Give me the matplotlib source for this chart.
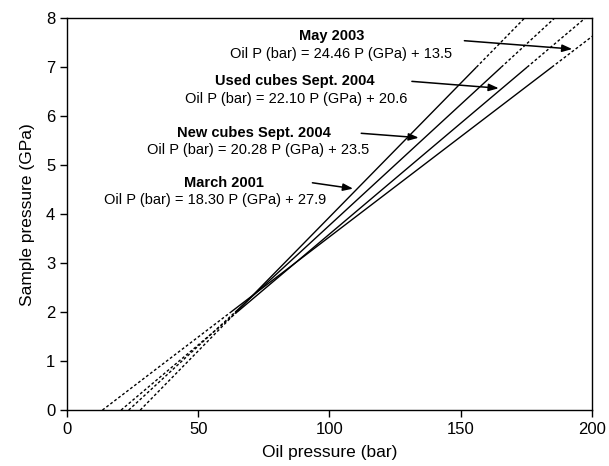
import numpy as np
import matplotlib
matplotlib.use("Agg")
import matplotlib.pyplot as plt

plt.rcParams['font.family'] = ['Liberation Sans', 'DejaVu Sans']

# calibrations: Oil P (bar) = slope * P (GPa) + intercept
labels = ['May 2003', 'Used cubes Sept. 2004', 'New cubes Sept. 2004', 'March 2001']
slopes = [24.46, 22.10, 20.28, 18.30]
intercepts = [13.5, 20.6, 23.5, 27.9]

# measured range (solid) and extrapolated range (dashed), sample pressure in GPa
p_solid = [2.0, 7.0]
p_low = [0.0, 2.0]
p_high = [7.0, 8.2]

# label / arrow placement in data coords
title_xy = [(100.7, 7.64), (86.7, 6.72), (71.4, 5.66), (59.7, 4.64)]
eq_xy = [(104.4, 7.26), (87.4, 6.35), (73.0, 5.30), (56.3, 4.29)]
arrow_from = [(151.4, 7.54), (131.4, 6.71), (112.1, 5.65), (93.5, 4.64)]
arrow_to = [(192.5, 7.37), (164.5, 6.57), (134.0, 5.56), (109.0, 4.52)]

fig = plt.figure(figsize=(6.09, 4.66), dpi=100)
ax = fig.add_axes([0.110, 0.120, 0.862, 0.841])

for i in range(len(labels)):
    a, b = slopes[i], intercepts[i]
    p = np.array(p_solid)
    ax.plot(a * p + b, p, color='black', lw=1.0, solid_capstyle='butt')
    for rng in (p_low, p_high):
        p = np.array(rng)
        ax.plot(a * p + b, p, color='black', lw=1.0, linestyle=(0, (2, 1.6)))

    ax.text(title_xy[i][0], title_xy[i][1], labels[i], ha='center', va='center',
            fontsize=10.5, fontweight='bold')
    eq = 'Oil P (bar) = %.2f P (GPa) + %.1f' % (a, b)
    ax.text(eq_xy[i][0], eq_xy[i][1], eq, ha='center', va='center', fontsize=10.5)
    ax.annotate('', xy=arrow_to[i], xytext=arrow_from[i],
                arrowprops=dict(arrowstyle='-|>,head_length=0.6,head_width=0.22',
                                color='black', lw=1.1, shrinkA=0, shrinkB=0))

ax.set_xlim(0, 200)
ax.set_ylim(0, 8)
ax.set_xticks([0, 50, 100, 150, 200])
ax.set_yticks(range(0, 9))
ax.tick_params(direction='out', length=5, width=1, labelsize=12)
for s in ax.spines.values():
    s.set_linewidth(1.0)
ax.set_xlabel('Oil pressure (bar)', fontsize=12.5, labelpad=6)
ax.set_ylabel('Sample pressure (GPa)', fontsize=12.5, labelpad=8)

fig.savefig('out.png', dpi=100)
